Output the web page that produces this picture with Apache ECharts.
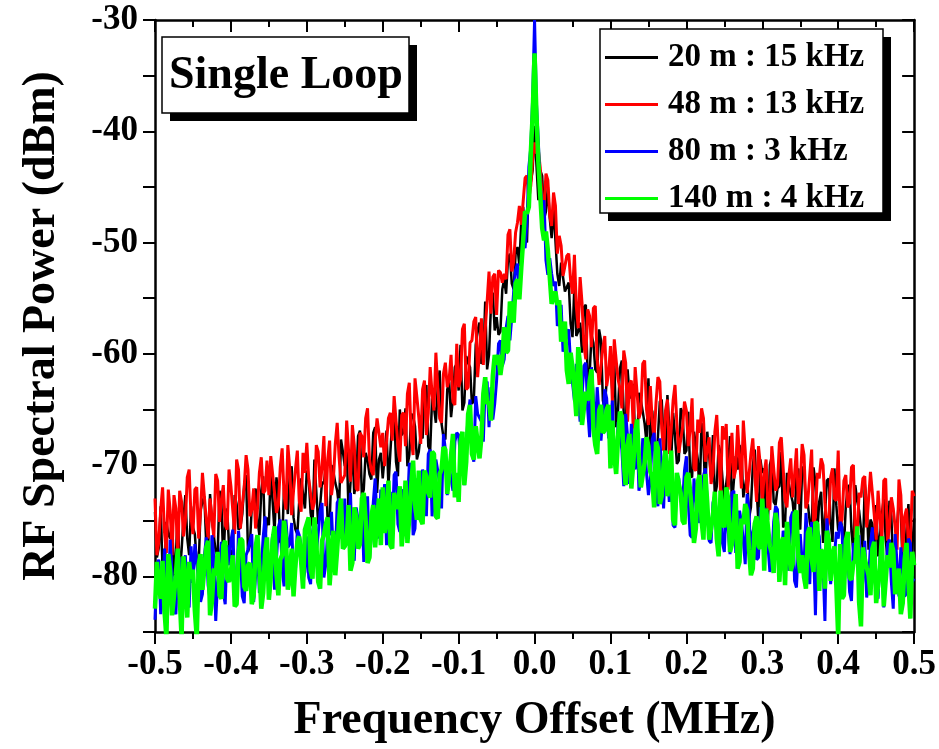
<!DOCTYPE html>
<html>
<head>
<meta charset="utf-8">
<script src="https://cdn.jsdelivr.net/npm/echarts@6/dist/echarts.min.js"></script>
<style>html,body{margin:0;padding:0;background:#fff;}#chart{width:939px;height:749px;}</style>
</head>
<body>
<div id="chart"></div>
<script>
// Frequency offset samples (MHz), main grid
const freq = [
-0.5,-0.495,-0.49,-0.485,-0.48,-0.475,-0.47,-0.465,-0.46,-0.455,
-0.45,-0.445,-0.44,-0.435,-0.43,-0.425,-0.42,-0.415,-0.41,-0.405,
-0.4,-0.395,-0.39,-0.385,-0.38,-0.375,-0.37,-0.365,-0.36,-0.355,
-0.35,-0.345,-0.34,-0.335,-0.33,-0.325,-0.32,-0.315,-0.31,-0.305,
-0.3,-0.295,-0.29,-0.285,-0.28,-0.275,-0.27,-0.265,-0.26,-0.255,
-0.25,-0.245,-0.24,-0.235,-0.23,-0.225,-0.22,-0.215,-0.21,-0.205,
-0.2,-0.195,-0.19,-0.185,-0.18,-0.175,-0.17,-0.165,-0.16,-0.155,
-0.15,-0.145,-0.14,-0.135,-0.13,-0.125,-0.12,-0.115,-0.11,-0.105,
-0.1,-0.095,-0.09,-0.085,-0.08,-0.075,-0.07,-0.065,-0.06,-0.055,
-0.05,-0.045,-0.04,-0.035,-0.03,-0.025,-0.02,-0.015,-0.01,-0.005,
-0.0025,0,0.0025,
0.005,0.01,0.015,0.02,0.025,0.03,0.035,0.04,0.045,0.05,
0.055,0.06,0.065,0.07,0.075,0.08,0.085,0.09,0.095,0.1,
0.105,0.11,0.115,0.12,0.125,0.13,0.135,0.14,0.145,0.15,
0.155,0.16,0.165,0.17,0.175,0.18,0.185,0.19,0.195,0.2,
0.205,0.21,0.215,0.22,0.225,0.23,0.235,0.24,0.245,0.25,
0.255,0.26,0.265,0.27,0.275,0.28,0.285,0.29,0.295,0.3,
0.305,0.31,0.315,0.32,0.325,0.33,0.335,0.34,0.345,0.35,
0.355,0.36,0.365,0.37,0.375,0.38,0.385,0.39,0.395,0.4,
0.405,0.41,0.415,0.42,0.425,0.43,0.435,0.44,0.445,0.45,
0.455,0.46,0.465,0.47,0.475,0.48,0.485,0.49,0.495,0.5
];

// Frequency offset samples (MHz), in-between grid
const freqMid = [
-0.4975,-0.4925,-0.4875,-0.4825,-0.4775,-0.4725,-0.4675,-0.4625,-0.4575,-0.4525,
-0.4475,-0.4425,-0.4375,-0.4325,-0.4275,-0.4225,-0.4175,-0.4125,-0.4075,-0.4025,
-0.3975,-0.3925,-0.3875,-0.3825,-0.3775,-0.3725,-0.3675,-0.3625,-0.3575,-0.3525,
-0.3475,-0.3425,-0.3375,-0.3325,-0.3275,-0.3225,-0.3175,-0.3125,-0.3075,-0.3025,
-0.2975,-0.2925,-0.2875,-0.2825,-0.2775,-0.2725,-0.2675,-0.2625,-0.2575,-0.2525,
-0.2475,-0.2425,-0.2375,-0.2325,-0.2275,-0.2225,-0.2175,-0.2125,-0.2075,-0.2025,
-0.1975,-0.1925,-0.1875,-0.1825,-0.1775,-0.1725,-0.1675,-0.1625,-0.1575,-0.1525,
-0.1475,-0.1425,-0.1375,-0.1325,-0.1275,-0.1225,-0.1175,-0.1125,-0.1075,-0.1025,
-0.0975,-0.0925,-0.0875,-0.0825,-0.0775,-0.0725,-0.0675,-0.0625,-0.0575,-0.0525,
-0.0475,-0.0425,-0.0375,-0.0325,-0.0275,-0.0225,-0.0175,-0.0125,-0.0075,
0.0075,0.0125,0.0175,0.0225,0.0275,0.0325,0.0375,0.0425,0.0475,
0.0525,0.0575,0.0625,0.0675,0.0725,0.0775,0.0825,0.0875,0.0925,0.0975,
0.1025,0.1075,0.1125,0.1175,0.1225,0.1275,0.1325,0.1375,0.1425,0.1475,
0.1525,0.1575,0.1625,0.1675,0.1725,0.1775,0.1825,0.1875,0.1925,0.1975,
0.2025,0.2075,0.2125,0.2175,0.2225,0.2275,0.2325,0.2375,0.2425,0.2475,
0.2525,0.2575,0.2625,0.2675,0.2725,0.2775,0.2825,0.2875,0.2925,0.2975,
0.3025,0.3075,0.3125,0.3175,0.3225,0.3275,0.3325,0.3375,0.3425,0.3475,
0.3525,0.3575,0.3625,0.3675,0.3725,0.3775,0.3825,0.3875,0.3925,0.3975,
0.4025,0.4075,0.4125,0.4175,0.4225,0.4275,0.4325,0.4375,0.4425,0.4475,
0.4525,0.4575,0.4625,0.4675,0.4725,0.4775,0.4825,0.4875,0.4925,0.4975
];

// 20 m : 15 kHz (black), dBm
const p20m = [
-74.2,-77.4,-79.6,-75.1,-76.6,-80.0,-74.2,-77.7,-72.7,-78.1,
-75.6,-78.8,-74.1,-72.8,-77.3,-74.9,-77.8,-72.3,-78.9,-73.9,
-78.1,-72.7,-75.8,-74.4,-70.9,-77.2,-73.5,-74.9,-72.3,-77.0,
-75.4,-73.3,-71.1,-76.9,-72.0,-74.4,-70.1,-75.8,-73.2,-71.3,
-70.5,-74.3,-69.5,-75.3,-71.5,-70.1,-75.5,-70.6,-72.3,-67.7,
-70.1,-74.3,-68.4,-71.5,-66.9,-72.2,-69.6,-71.3,-66.6,-69.5,
-71.2,-66.9,-68.9,-65.2,-71.0,-67.3,-64.9,-69.1,-65.6,-69.5,
-67.2,-63.4,-68.3,-64.0,-66.2,-61.5,-67.5,-63.2,-65.7,-61.2,
-63.3,-65.1,-60.2,-61.2,-64.2,-57.9,-60.9,-55.3,-60.1,-54.5,
-56.7,-58.0,-53.3,-51.5,-53.7,-51.0,-52.1,-46.8,-50.0,-44.6,
-43.5,-39.5,-43.0,
-46.2,-44.0,-47.2,-47.8,-46.9,-52.8,-51.8,-54.4,-53.6,-58.5,
-58.4,-57.2,-55.8,-62.4,-58.3,-61.4,-57.8,-64.2,-62.3,-61.1,
-60.7,-65.0,-60.6,-66.9,-63.6,-62.7,-68.6,-64.2,-66.3,-62.2,
-65.1,-69.8,-64.3,-67.9,-63.7,-69.6,-67.4,-69.6,-65.3,-68.7,
-70.9,-67.0,-69.5,-66.2,-72.5,-69.2,-67.3,-71.9,-68.9,-73.2,
-70.2,-73.7,-69.2,-68.2,-72.9,-70.7,-73.8,-68.6,-75.4,-70.7,
-75.2,-70.0,-73.3,-72.1,-68.8,-75.2,-71.7,-73.3,-70.9,-75.8,
-70.1,-73.5,-75.9,-71.6,-73.3,-77.0,-71.4,-75.1,-70.3,-75.9,
-75.6,-73.7,-71.8,-77.8,-73.2,-75.7,-71.7,-77.6,-75.3,-73.6,
-76.3,-73.0,-78.4,-74.6,-77.3,-73.1,-79.6,-75.8,-78.8,-74.8
];
const p20mMid = [
-78.3,-73.7,-79.9,-76.2,-74.6,-78.1,-79.8,-74.8,-76.6,-73.7,
-76.2,-79.0,-73.3,-77.1,-72.6,-74.8,-78.1,-73.5,-74.8,-77.2,
-77.6,-73.5,-75.6,-71.8,-77.8,-73.7,-72.1,-76.3,-71.0,-74.7,
-70.5,-76.1,-72.9,-77.1,-72.3,-70.9,-74.7,-76.2,-71.2,-73.9,
-71.2,-75.5,-69.6,-73.7,-71.7,-75.2,-70.0,-71.6,-73.9,-68.8,
-68.4,-71.6,-72.6,-67.4,-72.8,-68.9,-70.8,-67.1,-72.5,-68.9,
-69.2,-71.9,-66.0,-69.7,-65.0,-67.0,-70.1,-65.4,-66.5,-68.8,
-67.6,-62.8,-68.7,-64.8,-62.9,-66.3,-67.7,-62.5,-64.0,-60.9,
-59.2,-64.4,-60.8,-64.5,-59.2,-57.2,-60.5,-61.4,-55.8,-57.9,
-58.3,-54.2,-54.6,-51.0,-54.2,-50.4,-48.1,-49.5,-44.2,
-43.5,-47.9,-45.0,-49.6,-49.8,-53.9,-51.8,-54.4,-57.3,
-53.8,-58.0,-59.9,-55.6,-61.9,-59.0,-61.7,-58.8,-65.0,-62.2,
-63.4,-66.6,-61.3,-65.5,-61.4,-64.0,-67.7,-63.5,-65.2,-68.0,
-68.8,-65.1,-67.5,-64.1,-70.4,-66.6,-65.3,-69.9,-64.9,-69.0,
-65.2,-71.1,-68.2,-72.7,-68.2,-67.0,-71.1,-72.9,-68.2,-71.2,
-71.7,-67.4,-73.8,-70.4,-69.0,-72.9,-74.8,-70.1,-72.1,-69.5,
-70.3,-74.9,-69.2,-73.6,-71.9,-75.6,-70.7,-72.6,-75.1,-70.3,
-70.3,-73.8,-75.1,-70.2,-75.9,-72.4,-74.6,-71.2,-76.9,-73.6,
-74.4,-77.4,-72.0,-76.0,-71.8,-74.1,-77.7,-73.3,-74.9,-77.5,
-78.2,-74.4,-76.7,-73.2,-79.4,-75.5,-74.1,-78.6,-73.5,-77.5
];

// 48 m : 13 kHz (red), dBm
const p48m = [
-73.0,-76.9,-72.0,-77.9,-74.1,-72.7,-78.2,-73.3,-75.0,-70.4,
-76.2,-72.0,-74.2,-70.6,-76.6,-73.0,-70.8,-75.1,-71.8,-75.8,
-71.9,-76.2,-70.4,-73.6,-69.1,-74.6,-72.1,-73.9,-69.3,-72.3,
-72.7,-69.1,-74.3,-70.2,-72.7,-68.2,-74.5,-70.4,-73.2,-68.9,
-68.0,-71.2,-73.3,-68.8,-70.2,-73.7,-67.8,-71.3,-66.2,-71.6,
-70.9,-68.7,-66.4,-72.1,-67.1,-69.3,-64.9,-70.5,-67.8,-65.8,
-67.1,-70.1,-65.3,-63.8,-68.2,-65.5,-68.3,-62.6,-69.1,-63.9,
-68.1,-62.4,-65.3,-63.6,-59.9,-65.8,-61.8,-63.0,-60.1,-64.6,
-63.0,-57.8,-63.2,-59.0,-57.1,-62.1,-56.8,-57.8,-52.6,-53.1,
-56.5,-52.7,-52.8,-49.3,-52.6,-49.1,-46.7,-48.3,-44.0,-44.9,
-42.5,-41.0,-42.0,
-41.7,-46.3,-43.8,-47.6,-45.5,-51.0,-50.3,-53.1,-51.0,-54.6,
-55.7,-53.1,-59.2,-56.0,-59.4,-55.7,-62.8,-59.4,-62.9,-59.3,
-58.7,-62.3,-64.9,-60.8,-62.7,-66.7,-61.3,-65.2,-60.6,-66.4,
-66.1,-64.4,-62.5,-68.7,-64.1,-66.8,-62.8,-68.9,-66.6,-65.1,
-66.8,-70.3,-65.9,-64.9,-69.7,-67.5,-70.7,-65.5,-72.4,-67.7,
-72.2,-67.1,-70.4,-69.3,-66.0,-72.5,-69.0,-70.7,-68.3,-73.3,
-69.5,-74.0,-68.4,-71.8,-67.5,-73.2,-70.9,-72.9,-68.5,-71.7,
-69.1,-73.2,-68.6,-74.7,-71.2,-70.0,-75.7,-71.1,-73.0,-68.7,
-74.9,-70.9,-73.4,-70.0,-76.3,-72.9,-71.0,-75.5,-72.5,-76.7,
-74.8,-71.4,-76.8,-72.9,-75.6,-71.3,-77.8,-73.9,-76.9,-72.8
];
const p48mMid = [
-78.1,-74.0,-76.0,-72.2,-78.1,-73.9,-72.3,-76.4,-71.1,-74.7,
-72.2,-76.6,-70.7,-74.9,-73.0,-76.5,-71.4,-73.1,-75.4,-70.4,
-74.1,-69.5,-75.7,-72.0,-70.4,-74.0,-75.7,-70.7,-72.5,-69.6,
-69.2,-72.5,-73.6,-68.5,-74.0,-70.3,-72.3,-68.7,-74.2,-70.7,
-71.2,-74.0,-68.2,-72.0,-67.4,-69.5,-72.7,-68.1,-69.3,-71.7,
-66.0,-71.5,-68.2,-72.3,-67.4,-65.8,-69.5,-70.9,-65.8,-68.4,
-70.1,-65.8,-67.8,-63.8,-69.7,-65.3,-63.6,-67.6,-62.2,-65.7,
-63.2,-67.3,-61.2,-65.1,-63.0,-66.2,-60.8,-62.3,-64.3,-59.1,
-62.3,-57.3,-63.0,-58.8,-56.7,-59.8,-61.0,-55.3,-56.4,-52.8,
-52.5,-53.6,-53.3,-48.8,-51.7,-48.2,-48.4,-44.2,-46.1,
-43.3,-47.0,-44.4,-48.5,-46.7,-49.4,-53.0,-51.2,-53.4,
-51.1,-57.7,-55.4,-60.5,-56.6,-55.9,-60.5,-62.7,-58.4,-61.8,
-64.3,-60.6,-63.1,-59.7,-66.1,-62.4,-61.2,-65.8,-60.9,-65.0,
-62.9,-67.7,-62.1,-66.7,-65.1,-69.0,-64.2,-66.3,-68.9,-64.3,
-68.3,-64.0,-70.5,-67.1,-65.8,-69.7,-71.7,-67.0,-69.1,-66.5,
-66.3,-69.9,-71.2,-66.4,-72.1,-68.7,-70.9,-67.6,-73.3,-70.1,
-70.8,-73.8,-68.3,-72.3,-68.0,-70.3,-73.8,-69.4,-70.9,-73.5,
-68.1,-73.9,-70.9,-75.3,-70.7,-69.4,-73.4,-75.1,-70.3,-73.2,
-75.3,-71.4,-73.8,-70.2,-76.5,-72.5,-71.2,-75.6,-70.6,-74.5,
-72.3,-76.9,-71.2,-75.6,-73.9,-77.6,-72.7,-74.6,-77.1,-72.3
];

// 80 m : 3 kHz (blue), dBm
const p80m = [
-83.9,-78.5,-81.6,-80.2,-76.7,-83.0,-79.3,-80.7,-78.1,-82.8,
-80.6,-77.0,-82.3,-78.2,-80.8,-76.3,-84.0,-78.6,-81.5,-77.2,
-76.8,-80.7,-75.9,-81.8,-78.1,-76.8,-82.3,-77.5,-79.2,-74.6,
-80.4,-76.2,-78.5,-74.9,-80.9,-77.4,-75.2,-79.5,-76.3,-80.3,
-76.4,-80.7,-74.8,-78.0,-73.4,-78.9,-76.3,-78.1,-73.4,-76.4,
-73.0,-76.2,-78.3,-73.8,-75.2,-78.7,-72.8,-76.3,-71.2,-76.6,
-74.1,-77.2,-72.4,-70.9,-75.3,-72.7,-75.5,-69.8,-76.3,-71.2,
-73.6,-71.3,-69.0,-74.6,-69.5,-71.7,-67.2,-72.7,-70.0,-67.9,
-67.3,-70.0,-68.1,-64.1,-69.7,-65.4,-66.1,-62.7,-66.6,-65.9,
-62.4,-58.8,-60.5,-56.6,-56.7,-52.5,-54.4,-50.0,-48.2,-41.5,
-37.0,-30.0,-37.5,
-41.0,-46.7,-51.6,-51.4,-53.9,-57.5,-55.6,-59.3,-57.8,-62.6,
-60.9,-66.1,-61.1,-65.0,-61.2,-67.4,-65.5,-67.9,-64.0,-67.7,
-69.9,-66.1,-68.6,-65.4,-71.7,-68.5,-66.6,-71.3,-68.3,-72.7,
-67.7,-72.0,-67.6,-73.9,-70.6,-69.7,-75.6,-71.2,-73.3,-69.2,
-76.3,-71.2,-74.6,-73.5,-70.3,-76.8,-73.4,-75.1,-72.8,-77.8,
-75.8,-72.5,-77.9,-74.1,-76.8,-72.6,-79.1,-75.3,-78.3,-74.3,
-76.2,-79.6,-75.1,-74.0,-78.7,-76.4,-79.5,-74.2,-81.0,-76.2,
-79.0,-77.1,-75.1,-83.5,-76.4,-78.9,-74.8,-80.7,-78.3,-76.6,
-75.6,-79.0,-81.4,-77.0,-78.7,-82.4,-76.8,-80.4,-75.6,-81.2,
-78.3,-82.8,-77.1,-80.5,-76.2,-81.8,-79.5,-81.5,-77.0,-80.2
];
const p80mMid = [
-79.0,-83.4,-77.5,-81.7,-79.8,-83.4,-78.3,-80.0,-82.3,-77.3,
-77.1,-80.4,-81.6,-76.5,-82.1,-78.4,-80.5,-76.9,-82.5,-79.0,
-75.8,-81.4,-78.2,-82.4,-77.6,-76.2,-80.0,-81.5,-76.5,-79.1,
-78.4,-81.2,-75.6,-79.4,-74.9,-77.1,-80.4,-75.8,-77.2,-79.6,
-80.1,-76.0,-78.0,-74.2,-80.1,-75.9,-74.2,-78.4,-73.0,-76.7,
-77.1,-72.5,-78.6,-74.9,-73.2,-76.8,-78.4,-73.4,-75.1,-72.2,
-71.7,-74.9,-75.9,-70.6,-76.0,-72.2,-74.1,-70.3,-75.7,-72.1,
-70.4,-74.6,-68.6,-72.6,-70.5,-73.9,-68.6,-70.1,-72.3,-67.1,
-69.4,-71.8,-65.6,-68.9,-63.8,-65.3,-67.9,-62.5,-63.0,-64.5,
-59.1,-61.1,-57.7,-58.8,-54.4,-51.9,-52.2,-50.5,-43.2,
-44.9,-46.2,-52.9,-52.8,-53.5,-57.1,-59.8,-58.2,-61.0,
-64.2,-61.0,-63.9,-60.8,-67.5,-64.0,-63.0,-67.8,-63.2,-67.6,
-64.2,-70.2,-67.3,-71.9,-67.4,-66.3,-70.4,-72.3,-67.6,-70.7,
-71.3,-67.1,-73.7,-70.4,-69.2,-73.3,-75.4,-70.8,-73.0,-70.5,
-73.4,-76.5,-71.1,-75.2,-71.0,-73.4,-77.0,-72.7,-74.3,-77.0,
-73.3,-78.0,-72.3,-76.8,-75.1,-78.9,-74.0,-76.0,-78.5,-73.8,
-73.8,-77.3,-78.6,-73.7,-79.4,-75.9,-78.1,-74.7,-80.4,-77.1,
-78.7,-74.3,-80.7,-77.2,-75.8,-79.6,-84.0,-76.7,-78.7,-76.0,
-75.1,-80.9,-77.9,-82.2,-77.6,-76.3,-80.3,-81.9,-77.1,-80.0,
-82.0,-78.1,-80.3,-76.7,-82.9,-78.8,-77.4,-81.8,-76.6,-80.5
];

// 140 m : 4 kHz (green), dBm
const p140m = [
-82.9,-80.8,-78.6,-85.5,-79.5,-81.8,-77.5,-85.5,-80.6,-78.7,
-79.4,-85.5,-78.0,-81.2,-76.8,-82.3,-79.9,-81.7,-77.2,-80.2,
-79.5,-82.7,-78.0,-76.8,-81.3,-78.8,-81.7,-76.3,-82.9,-77.9,
-82.1,-76.7,-79.8,-78.5,-75.0,-81.2,-77.5,-79.0,-76.4,-81.1,
-75.7,-79.5,-74.7,-80.5,-76.8,-75.3,-80.8,-75.9,-77.6,-73.0,
-77.3,-73.6,-78.8,-74.6,-77.1,-72.5,-78.8,-74.6,-77.4,-73.0,
-72.0,-75.1,-77.2,-72.5,-73.9,-77.3,-71.4,-74.7,-69.6,-74.9,
-74.9,-70.5,-72.5,-68.8,-74.6,-70.8,-68.4,-72.6,-69.1,-72.9,
-73.3,-67.0,-69.7,-64.6,-69.5,-66.4,-67.5,-62.1,-64.3,-62.0,
-61.0,-61.9,-57.6,-59.7,-56.0,-53.7,-55.1,-49.8,-47.4,-42.0,
-38.5,-33.0,-38.5,
-42.8,-48.7,-49.0,-50.8,-55.5,-55.6,-58.9,-57.1,-62.7,-61.2,
-65.6,-61.0,-64.9,-64.2,-61.4,-68.2,-65.1,-67.1,-65.0,-70.3,
-69.2,-67.5,-65.6,-71.8,-67.2,-69.9,-65.9,-72.0,-69.8,-68.3,
-71.1,-67.9,-73.5,-69.9,-72.8,-68.7,-75.4,-71.7,-75.0,-71.1,
-72.4,-77.0,-71.5,-75.0,-70.8,-76.7,-74.5,-76.6,-72.3,-75.6,
-73.0,-77.1,-72.6,-78.7,-75.3,-74.1,-79.9,-75.3,-77.3,-73.0,
-73.9,-77.3,-79.7,-75.4,-77.1,-80.8,-75.2,-78.9,-74.1,-79.7,
-80.1,-76.1,-78.5,-75.1,-81.3,-77.9,-75.9,-80.4,-77.3,-85.5,
-82.0,-76.8,-80.1,-78.8,-75.5,-84.5,-78.4,-79.9,-77.5,-82.4,
-79.3,-82.7,-78.1,-77.0,-81.6,-79.3,-82.4,-77.0,-83.8,-79.0
];
const p140mMid = [
-78.7,-82.0,-83.1,-78.0,-83.5,-79.8,-81.8,-78.2,-83.7,-80.2,
-83.1,-79.0,-81.2,-77.4,-83.5,-79.3,-77.8,-82.0,-76.8,-80.5,
-78.1,-82.5,-76.6,-80.9,-79.0,-82.5,-77.4,-79.2,-81.5,-76.5,
-80.1,-75.5,-81.7,-78.1,-76.5,-80.1,-81.8,-76.9,-78.7,-75.8,
-74.7,-80.2,-77.0,-81.1,-76.3,-74.7,-78.5,-79.9,-74.9,-77.5,
-76.8,-79.5,-73.8,-77.5,-73.0,-75.0,-78.3,-73.6,-74.9,-77.2,
-76.1,-71.4,-77.5,-73.6,-71.9,-75.4,-77.0,-71.8,-73.5,-70.5,
-75.3,-71.0,-72.9,-69.0,-74.8,-70.4,-68.6,-72.7,-67.2,-70.7,
-67.9,-71.8,-65.4,-69.0,-66.5,-69.4,-63.6,-64.5,-66.0,-60.1,
-60.1,-60.6,-59.9,-55.3,-57.2,-53.3,-52.3,-47.2,-46.8,
-42.9,-49.8,-50.7,-55.5,-54.4,-55.2,-58.9,-61.5,-59.9,
-63.2,-59.4,-66.4,-63.4,-62.5,-66.7,-69.0,-64.6,-66.9,-64.6,
-66.0,-70.8,-65.2,-69.8,-68.2,-72.1,-67.3,-69.4,-72.1,-67.5,
-70.6,-73.8,-68.5,-72.8,-68.7,-71.2,-74.9,-70.7,-72.5,-75.3,
-70.7,-74.3,-75.7,-70.9,-76.7,-73.4,-75.7,-72.4,-78.2,-75.0,
-72.0,-77.8,-74.9,-79.3,-74.8,-73.5,-77.6,-79.3,-74.6,-77.5,
-79.5,-75.6,-77.9,-74.3,-80.5,-76.5,-75.1,-79.5,-74.4,-78.3,
-78.1,-81.1,-75.6,-79.6,-75.3,-77.6,-81.1,-76.7,-78.2,-80.8,
-77.1,-81.7,-76.0,-80.3,-78.6,-82.3,-77.4,-79.2,-81.7,-76.9,
-80.8,-76.4,-82.7,-79.2,-77.7,-81.5,-83.4,-78.5,-80.5,-77.8
];

const seriesNames = ['20 m : 15 kHz', '48 m : 13 kHz', '80 m : 3 kHz', '140 m : 4 kHz'];
const seriesMain = [p20m, p48m, p80m, p140m];
const seriesMid = [p20mMid, p48mMid, p80mMid, p140mMid];
const seriesColors = ['#000000', '#ff0000', '#0000ff', '#00ff00'];
const seriesWidths = [2.5, 3, 3, 4.5];
const annotation = 'Single Loop';
const xTitle = 'Frequency Offset (MHz)';
const yTitle = 'RF Spectral Power (dBm)';

const FONT = '"Liberation Serif", "Times New Roman", serif';

// merge the two sample grids into one x-sorted list of [x, y]
function pairs(main, mid) {
  const a = freq.map((f, i) => [f, main[i]]);
  const b = freqMid.map((f, i) => [f, mid[i]]);
  return a.concat(b).sort((p, q) => p[0] - q[0]);
}

const chart = echarts.init(document.getElementById('chart'), null, { renderer: 'canvas' });

const axisLine = { show: true, onZero: false, lineStyle: { color: '#000', width: 2.5 } };

function boxWithShadow(x, y, w, h) {
  return [
    { type: 'rect', z: 1, silent: true, shape: { x: x + 8, y: y + 8, width: w, height: h }, style: { fill: '#000' } },
    { type: 'rect', z: 1, silent: true, shape: { x: x, y: y, width: w, height: h }, style: { fill: '#fff', stroke: '#000', lineWidth: 1.5 } }
  ];
}

const option = {
  animation: false,
  backgroundColor: '#ffffff',
  grid: { left: 155, right: 23, top: 20, bottom: 117, containLabel: false },
  graphic: [].concat(boxWithShadow(162, 37, 247, 76), boxWithShadow(600, 29, 283, 184)),
  title: {
    text: annotation,
    left: 169, top: 53,
    padding: 0,
    textStyle: { fontFamily: FONT, fontWeight: 'bold', fontSize: 46, lineHeight: 46, color: '#000' }
  },
  legend: {
    orient: 'vertical',
    left: 605, top: 41,
    icon: 'rect',
    itemWidth: 53, itemHeight: 3, itemGap: 14,
    padding: 0,
    textStyle: { fontFamily: FONT, fontWeight: 'bold', fontSize: 33, lineHeight: 33, color: '#000', padding: [0, 0, 0, 5] },
    data: seriesNames
  },
  xAxis: [
    {
      type: 'value', position: 'bottom', min: -0.5, max: 0.5, interval: 0.1,
      name: xTitle, nameLocation: 'middle', nameGap: 66,
      nameTextStyle: { fontFamily: FONT, fontWeight: 'bold', fontSize: 46, color: '#000' },
      axisLine: axisLine,
      axisTick: { show: true, inside: false, length: 12, lineStyle: { color: '#000', width: 2 } },
      minorTick: { show: true, splitNumber: 2, length: 7, lineStyle: { color: '#000', width: 2 } },
      splitLine: { show: false },
      axisLabel: { margin: 15, fontFamily: FONT, fontWeight: 'bold', fontSize: 35, color: '#000',
        formatter: v => v.toFixed(1) }
    },
    {
      type: 'value', position: 'top', min: -0.5, max: 0.5, interval: 0.1,
      axisLine: axisLine,
      axisTick: { show: true, inside: true, length: 12, lineStyle: { color: '#000', width: 2 } },
      minorTick: { show: true, splitNumber: 2, length: 7, lineStyle: { color: '#000', width: 2 } },
      splitLine: { show: false },
      axisLabel: { show: false }
    }
  ],
  yAxis: [
    {
      type: 'value', position: 'left', min: -85, max: -30, interval: 5,
      name: yTitle, nameLocation: 'middle', nameGap: 90,
      nameTextStyle: { fontFamily: FONT, fontWeight: 'bold', fontSize: 46, color: '#000' },
      axisLine: axisLine,
      axisTick: { show: true, inside: false, length: 12, lineStyle: { color: '#000', width: 2 } },
      splitLine: { show: false },
      axisLabel: { margin: 17, fontFamily: FONT, fontWeight: 'bold', fontSize: 35, color: '#000',
        formatter: v => (Math.round(v) % 10 === 0 ? String(Math.round(v)) : '') }
    },
    {
      type: 'value', position: 'right', min: -85, max: -30, interval: 5,
      axisLine: axisLine,
      axisTick: { show: true, inside: true, length: 12, lineStyle: { color: '#000', width: 2 } },
      splitLine: { show: false },
      axisLabel: { show: false }
    }
  ],
  series: seriesNames.map((name, k) => ({
    name: name,
    type: 'line',
    xAxisIndex: 0, yAxisIndex: 0,
    data: pairs(seriesMain[k], seriesMid[k]),
    symbol: 'none',
    showSymbol: false,
    clip: true,
    color: seriesColors[k],
    lineStyle: { color: seriesColors[k], width: seriesWidths[k] },
    z: 2 + k
  }))
};

chart.setOption(option);
</script>
</body>
</html>
